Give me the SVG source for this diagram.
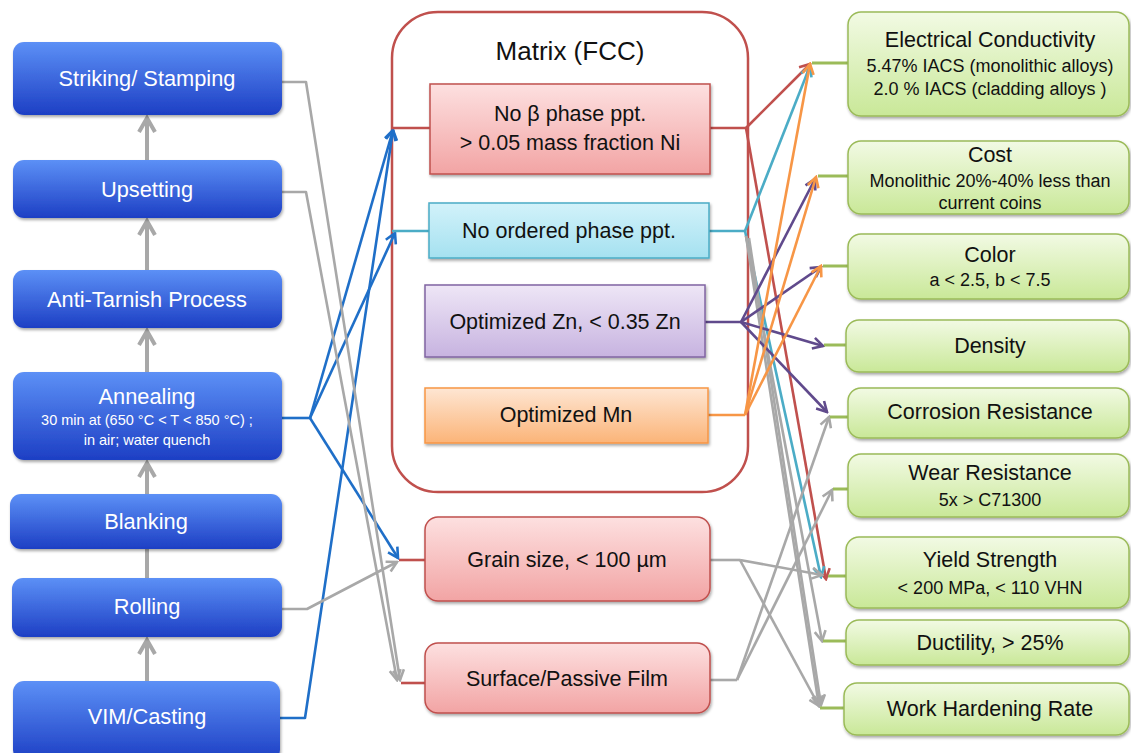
<svg xmlns="http://www.w3.org/2000/svg" width="1131" height="753" viewBox="0 0 1131 753">
<defs>
<style>
text{font-family:"Liberation Sans",Arial,sans-serif;text-anchor:middle}
.lt{fill:#fff;font-size:21.8px}
.ls{fill:#fff;font-size:14.5px}
.mt{fill:#111;font-size:21.5px}
.rt{fill:#111;font-size:21.5px}
.rs{fill:#111;font-size:18px}
.c{fill:none;stroke-width:2.6;stroke-linejoin:round}
.blue{stroke:#1f6fc8}.gray{stroke:#a8a8a8}.red{stroke:#c0504d}.cyan{stroke:#4bacc6}.pur{stroke:#604a8c}.org{stroke:#f79646}.grn{stroke:#9bbb59;stroke-width:3}
.bb{fill:url(#gB);filter:url(#sh)}
.pk{fill:url(#gP);stroke:#c0504d;stroke-width:1.5;filter:url(#sh)}
.cy{fill:url(#gC);stroke:#4bacc6;stroke-width:1.5;filter:url(#sh)}
.pu{fill:url(#gU);stroke:#8064a2;stroke-width:1.5;filter:url(#sh)}
.or{fill:url(#gO);stroke:#f79646;stroke-width:1.5;filter:url(#sh)}
.gr{fill:url(#gG);stroke:#9bbb59;stroke-width:1.5;filter:url(#sh)}
</style>
<filter id="sh" x="-10%" y="-10%" width="120%" height="130%"><feDropShadow dx="1" dy="2" stdDeviation="1.5" flood-opacity="0.35"/></filter>
<linearGradient id="gB" x1="0" y1="0" x2="0" y2="1"><stop offset="0" stop-color="#5c90f6"/><stop offset="1" stop-color="#1d3fc4"/></linearGradient>
<linearGradient id="gP" x1="0" y1="0" x2="0" y2="1"><stop offset="0" stop-color="#fde0e0"/><stop offset="1" stop-color="#f2a4a4"/></linearGradient>
<linearGradient id="gC" x1="0" y1="0" x2="0" y2="1"><stop offset="0" stop-color="#d2f2fa"/><stop offset="1" stop-color="#a5e1f0"/></linearGradient>
<linearGradient id="gU" x1="0" y1="0" x2="0" y2="1"><stop offset="0" stop-color="#eee6f6"/><stop offset="1" stop-color="#c7b3e0"/></linearGradient>
<linearGradient id="gO" x1="0" y1="0" x2="0" y2="1"><stop offset="0" stop-color="#fee6d3"/><stop offset="1" stop-color="#fbb478"/></linearGradient>
<linearGradient id="gG" x1="0" y1="0" x2="0" y2="1"><stop offset="0" stop-color="#f2fae4"/><stop offset="1" stop-color="#c9e898"/></linearGradient>
<marker id="aB" markerUnits="userSpaceOnUse" markerWidth="14" markerHeight="14" viewBox="0 0 14 14" refX="12" refY="7" orient="auto"><path d="M2,1.5 L12,7 L2,12.5" fill="none" stroke="#1f6fc8" stroke-width="2.6"/></marker>
<marker id="aG" markerUnits="userSpaceOnUse" markerWidth="14" markerHeight="14" viewBox="0 0 14 14" refX="12" refY="7" orient="auto"><path d="M2,1.5 L12,7 L2,12.5" fill="none" stroke="#a8a8a8" stroke-width="2.6"/></marker>
<marker id="aR" markerUnits="userSpaceOnUse" markerWidth="14" markerHeight="14" viewBox="0 0 14 14" refX="12" refY="7" orient="auto"><path d="M2,1.5 L12,7 L2,12.5" fill="none" stroke="#c0504d" stroke-width="2.6"/></marker>
<marker id="aC" markerUnits="userSpaceOnUse" markerWidth="14" markerHeight="14" viewBox="0 0 14 14" refX="12" refY="7" orient="auto"><path d="M2,1.5 L12,7 L2,12.5" fill="none" stroke="#4bacc6" stroke-width="2.6"/></marker>
<marker id="aU" markerUnits="userSpaceOnUse" markerWidth="14" markerHeight="14" viewBox="0 0 14 14" refX="12" refY="7" orient="auto"><path d="M2,1.5 L12,7 L2,12.5" fill="none" stroke="#604a8c" stroke-width="2.6"/></marker>
<marker id="aO" markerUnits="userSpaceOnUse" markerWidth="14" markerHeight="14" viewBox="0 0 14 14" refX="12" refY="7" orient="auto"><path d="M2,1.5 L12,7 L2,12.5" fill="none" stroke="#f79646" stroke-width="2.6"/></marker>
<marker id="aUp" markerUnits="userSpaceOnUse" markerWidth="20" markerHeight="20" viewBox="0 0 20 20" refX="17" refY="10" orient="auto"><path d="M3,2 L17,10 L3,18" fill="none" stroke="#a8a8a8" stroke-width="4"/></marker>
</defs>
<rect width="1131" height="753" fill="#fff"/>

<g id="process-arrows" fill="none" stroke="#a8a8a8" stroke-width="4">
<path d="M147,160 V118" marker-end="url(#aUp)"/>
<path d="M147,270 V221" marker-end="url(#aUp)"/>
<path d="M147,372 V331" marker-end="url(#aUp)"/>
<path d="M147,494 V463" marker-end="url(#aUp)"/>
<path d="M147,578 V549"/>
<path d="M147,681 V640" marker-end="url(#aUp)"/>
</g>

<g id="matrix">
<rect x="392" y="12" width="356" height="480" rx="46" fill="#fff" stroke="#c0504d" stroke-width="2.5"/>
<text x="570" y="60" style="font-size:26px;fill:#111">Matrix (FCC)</text>
</g>

<g id="connectors">
<path class="c blue" d="M282,418 H310"/>
<path class="c blue" d="M310,418 L393,130" marker-end="url(#aB)"/>
<path class="c blue" d="M310,418 L395,233" marker-end="url(#aB)"/>
<path class="c blue" d="M310,418 L398,558" marker-end="url(#aB)"/>
<path class="c blue" d="M280,718 H305 L393,130" marker-end="url(#aB)"/>
<path class="c gray" d="M282,82 H306 L400,680" marker-end="url(#aG)"/>
<path class="c gray" d="M282,192 H306 L397,680" marker-end="url(#aG)"/>
<path class="c gray" d="M282,609 H307 L397,562" marker-end="url(#aG)"/>
<path class="c red" d="M392,128 H430"/>
<path class="c cyan" d="M392,231 H429"/>
<path class="c red" d="M399,560 H425"/>
<path class="c red" d="M401,683 H425"/>
<path class="c red" d="M710,128 H746"/>
<path class="c red" d="M746,128 L810,64" marker-end="url(#aR)"/>
<path class="c red" d="M746,128 L826,579" marker-end="url(#aR)"/>
<path class="c cyan" d="M709,231 H745"/>
<path class="c cyan" d="M745,231 L810,66" marker-end="url(#aC)"/>
<path class="c cyan" d="M745,231 L821,577" marker-end="url(#aC)"/>
<path class="c gray" d="M746,236 L822,641" marker-end="url(#aG)"/>
<path class="c gray" d="M746,236 L819,706" marker-end="url(#aG)"/>
<path class="c gray" d="M749,238 L821,705" marker-end="url(#aG)"/>
<path class="c pur" d="M705,322 H741"/>
<path class="c pur" d="M741,322 L815,179" marker-end="url(#aU)"/>
<path class="c pur" d="M741,322 L821,267" marker-end="url(#aU)"/>
<path class="c pur" d="M741,322 L823,346" marker-end="url(#aU)"/>
<path class="c pur" d="M741,322 L827,412" marker-end="url(#aU)"/>
<path class="c org" d="M708,415 H745"/>
<path class="c org" d="M745,415 L810,64" marker-end="url(#aO)"/>
<path class="c org" d="M745,415 L816,177" marker-end="url(#aO)"/>
<path class="c org" d="M745,415 L821,266" marker-end="url(#aO)"/>
<path class="c gray" d="M710,560 H740"/>
<path class="c gray" d="M740,560 L822,575" marker-end="url(#aG)"/>
<path class="c gray" d="M740,560 L819,706" marker-end="url(#aG)"/>
<path class="c gray" d="M710,680 H737"/>
<path class="c gray" d="M737,680 L829,417" marker-end="url(#aG)"/>
<path class="c gray" d="M737,680 L832,490" marker-end="url(#aG)"/>
<path class="c grn" d="M812,63 H848"/>
<path class="c grn" d="M818,176 H848"/>
<path class="c grn" d="M823,266 H848"/>
<path class="c grn" d="M824,345 H848"/>
<path class="c grn" d="M830,417 H848"/>
<path class="c grn" d="M833,489 H848"/>
<path class="c grn" d="M828,576 H848"/>
<path class="c grn" d="M823,641 H848"/>
<path class="c grn" d="M820,708 H848"/>
</g>

<g id="striking"><rect class="bb" x="13" y="42" width="269" height="73" rx="11"/><text class="lt" x="147" y="86">Striking/ Stamping</text></g>
<g id="upsetting"><rect class="bb" x="13" y="160" width="269" height="58" rx="11"/><text class="lt" x="147" y="197">Upsetting</text></g>
<g id="antitarnish"><rect class="bb" x="13" y="270" width="269" height="58" rx="11"/><text class="lt" x="147" y="307">Anti-Tarnish Process</text></g>
<g id="annealing"><rect class="bb" x="13" y="372" width="269" height="88" rx="11"/><text class="lt" x="147" y="404">Annealing</text><text class="ls" x="147" y="425">30 min at  (650 °C &lt; T &lt; 850 °C) ;</text><text class="ls" x="147" y="445">in air; water quench</text></g>
<g id="blanking"><rect class="bb" x="10" y="494" width="272" height="55" rx="11"/><text class="lt" x="146" y="529">Blanking</text></g>
<g id="rolling"><rect class="bb" x="12" y="578" width="270" height="59" rx="11"/><text class="lt" x="147" y="614">Rolling</text></g>
<g id="vim"><rect class="bb" x="13" y="681" width="267" height="80" rx="11"/><text class="lt" x="147" y="724">VIM/Casting</text></g>

<g id="nobeta"><rect class="pk" x="430" y="84" width="280" height="90"/><text class="mt" x="570" y="121">No β phase ppt.</text><text class="mt" x="570" y="150">&gt; 0.05 mass fraction Ni</text></g>
<g id="noordered"><rect class="cy" x="429" y="203" width="280" height="55"/><text class="mt" x="569" y="238">No ordered phase ppt.</text></g>
<g id="zn"><rect class="pu" x="425" y="285" width="280" height="72"/><text class="mt" x="565" y="329">Optimized Zn, &lt; 0.35 Zn</text></g>
<g id="mn"><rect class="or" x="425" y="388" width="283" height="55"/><text class="mt" x="566" y="422">Optimized Mn</text></g>
<g id="grain"><rect class="pk" x="425" y="517" width="285" height="84" rx="13"/><text class="mt" x="567" y="567">Grain size, &lt; 100 µm</text></g>
<g id="surface"><rect class="pk" x="425" y="643" width="285" height="70" rx="13"/><text class="mt" x="567" y="686">Surface/Passive Film</text></g>

<g id="elec"><rect class="gr" x="848" y="12" width="281" height="104" rx="13"/><text class="rt" x="990" y="47">Electrical Conductivity</text><text class="rs" x="990" y="72">5.47% IACS (monolithic alloys)</text><text class="rs" x="990" y="95">2.0 % IACS (cladding alloys )</text></g>
<g id="cost"><rect class="gr" x="848" y="141" width="281" height="73" rx="13"/><text class="rt" x="990" y="162">Cost</text><text class="rs" x="990" y="187">Monolithic 20%-40% less than</text><text class="rs" x="990" y="209">current coins</text></g>
<g id="color"><rect class="gr" x="848" y="234" width="281" height="65" rx="13"/><text class="rt" x="990" y="262">Color</text><text class="rs" x="990" y="286">a &lt; 2.5, b &lt; 7.5</text></g>
<g id="density"><rect class="gr" x="846" y="320" width="283" height="52" rx="13"/><text class="rt" x="990" y="353">Density</text></g>
<g id="corrosion"><rect class="gr" x="848" y="388" width="281" height="50" rx="13"/><text class="rt" x="990" y="419">Corrosion Resistance</text></g>
<g id="wear"><rect class="gr" x="848" y="454" width="281" height="63" rx="13"/><text class="rt" x="990" y="480">Wear Resistance</text><text class="rs" x="990" y="506">5x &gt; C71300</text></g>
<g id="yield"><rect class="gr" x="846" y="537" width="283" height="71" rx="13"/><text class="rt" x="990" y="567">Yield Strength</text><text class="rs" x="990" y="594">&lt; 200 MPa, &lt; 110 VHN</text></g>
<g id="ductility"><rect class="gr" x="846" y="620" width="283" height="45" rx="13"/><text class="rt" x="990" y="650">Ductility, &gt; 25%</text></g>
<g id="workhardening"><rect class="gr" x="844" y="683" width="285" height="52" rx="13"/><text class="rt" x="990" y="716">Work Hardening Rate</text></g>
</svg>
